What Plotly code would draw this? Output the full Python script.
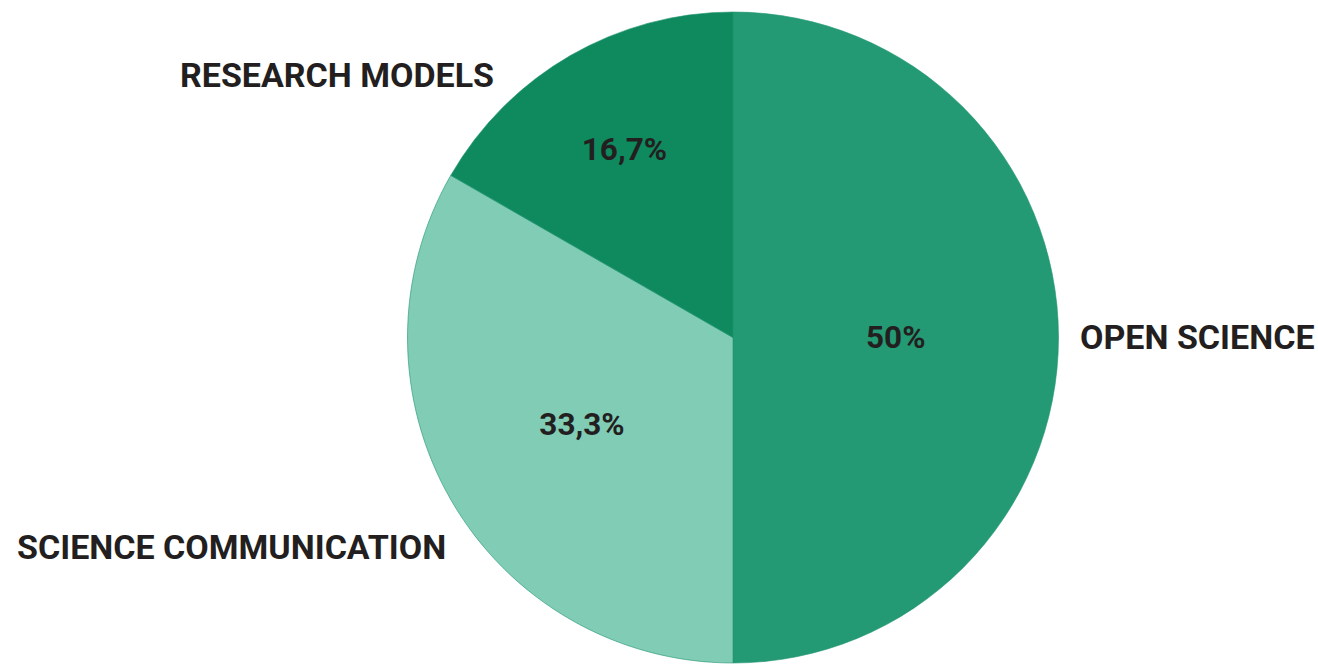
import plotly.graph_objects as go

# Share of activities per topic
categories = ["OPEN SCIENCE", "SCIENCE COMMUNICATION", "RESEARCH MODELS"]
shares = [50, 33.3, 16.7]
slice_colors = ["#239A74", "#80CCB5", "#0E8A5E"]


def pct_label(v):
    s = f"{v:.1f}".rstrip("0").rstrip(".")
    return s.replace(".", ",") + "%"


pct_text = [pct_label(v) for v in shares]

W, H = 1318, 665
M_TOP, M_BOT = 12, 2
PLOT_H = H - M_TOP - M_BOT
cx, r = 733, 326
FONT = "Roboto"

fig = go.Figure(
    go.Pie(
        labels=categories,
        values=shares,
        text=pct_text,
        texttemplate="%{text}",
        textposition="inside",
        insidetextorientation="horizontal",
        sort=False,
        direction="clockwise",
        rotation=0,
        marker=dict(colors=slice_colors, line=dict(color="#1F9470", width=0.6)),
        textfont=dict(family=FONT, size=31.5, color="#231F20", weight="bold"),
        showlegend=False,
        hoverinfo="label+percent",
        domain=dict(x=[(cx - r) / W, (cx + r) / W], y=[0, 1]),
    )
)

label_font = dict(family=FONT, size=34, color="#231F20", weight="bold")

# Category labels placed beside their slices (page pixel positions)
label_pos = {
    "OPEN SCIENCE": (1317, 337, "right"),
    "SCIENCE COMMUNICATION": (448, 547, "right"),
    "RESEARCH MODELS": (496, 75, "right"),
}
for name in categories:
    x, y, anchor = label_pos[name]
    fig.add_annotation(
        text=name, x=x / W, y=1 - (y - M_TOP) / PLOT_H,
        xref="paper", yref="paper",
        xanchor=anchor, yanchor="middle", showarrow=False, font=label_font,
    )

fig.update_layout(
    width=W, height=H,
    margin=dict(l=0, r=0, t=M_TOP, b=M_BOT),
    paper_bgcolor="white",
    plot_bgcolor="white",
)

fig.write_html("out.html")
